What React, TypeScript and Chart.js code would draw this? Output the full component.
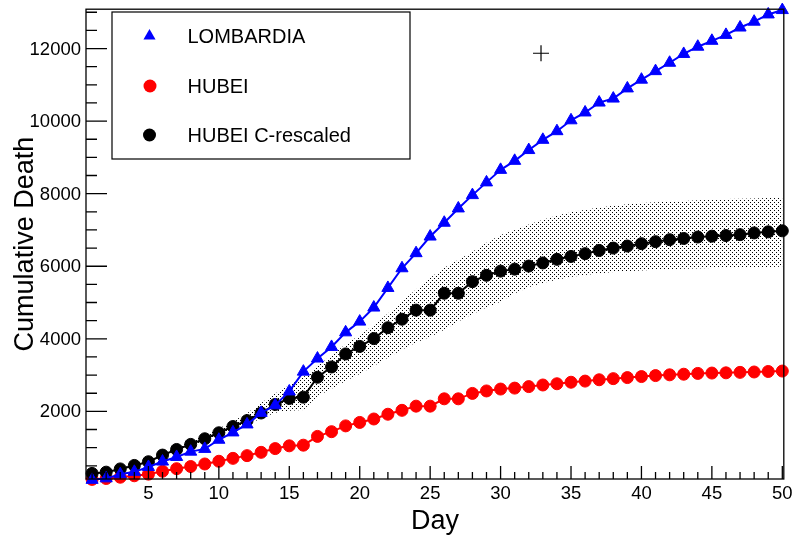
import React, { useEffect, useRef } from 'react';
import { Chart, registerables } from 'chart.js';

Chart.register(...registerables);

const DAYS = [1, 2, 3, 4, 5, 6, 7, 8, 9, 10, 11, 12, 13, 14, 15, 16, 17, 18, 19, 20, 21, 22, 23, 24, 25, 26, 27, 28, 29, 30, 31, 32, 33, 34, 35, 36, 37, 38, 39, 40, 41, 42, 43, 44, 45, 46, 47, 48, 49, 50];

const LOMBARDIA = [113, 154, 267, 333, 468, 617, 744, 890, 966, 1218, 1420, 1640, 1959, 2168, 2549, 3095, 3456, 3776, 4178, 4474, 4861, 5402, 5944, 6360, 6818, 7199, 7593, 7960, 8311, 8656, 8905, 9202, 9484, 9722, 10022, 10238, 10511, 10621, 10901, 11142, 11377, 11608, 11851, 12050, 12213, 12376, 12579, 12740, 12940, 13060];

const HUBEI = [125, 150, 185, 225, 270, 350, 420, 480, 550, 625, 705, 780, 871, 974, 1050, 1068, 1310, 1440, 1600, 1695, 1790, 1921, 2029, 2144, 2144, 2346, 2346, 2495, 2563, 2615, 2641, 2682, 2727, 2761, 2803, 2834, 2871, 2902, 2931, 2959, 2986, 3007, 3024, 3046, 3056, 3062, 3075, 3085, 3099, 3111];

const HUBEI_RESCALED = [290, 325, 414, 510, 612, 795, 950, 1090, 1245, 1410, 1582, 1746, 1955, 2190, 2356, 2392, 2940, 3224, 3582, 3790, 4005, 4305, 4540, 4790, 4790, 5255, 5255, 5575, 5750, 5865, 5920, 6005, 6090, 6190, 6270, 6347, 6435, 6500, 6556, 6622, 6677, 6732, 6765, 6805, 6828, 6845, 6870, 6918, 6948, 6975];

const BAND_UPPER = [305, 340, 435, 540, 645, 840, 1005, 1170, 1340, 1530, 1730, 1950, 2230, 2490, 2720, 2950, 3250, 3550, 3850, 4100, 4380, 4700, 5030, 5360, 5680, 5960, 6180, 6400, 6650, 6860, 7000, 7150, 7280, 7400, 7490, 7560, 7620, 7670, 7710, 7740, 7760, 7780, 7800, 7820, 7840, 7850, 7860, 7870, 7880, 7890];

const BAND_LOWER = [280, 310, 395, 490, 590, 765, 915, 1050, 1190, 1340, 1490, 1630, 1800, 1960, 2020, 2040, 2420, 2620, 2840, 3030, 3250, 3480, 3700, 3900, 4050, 4250, 4480, 4680, 4860, 5020, 5250, 5420, 5540, 5630, 5700, 5760, 5800, 5840, 5860, 5880, 5900, 5915, 5930, 5940, 5950, 5960, 5965, 5970, 5978, 5985];

const CROSS_MARK = [{ x: 32.87, y: 11870 }];

const Y_TICKS = [500, 1000, 1500, 2000, 2500, 3000, 3500, 4000, 4500, 5000, 5500, 6000, 6500, 7000, 7500, 8000, 8500, 9000, 9500, 10000, 10500, 11000, 11500, 12000, 12500, 13000];
const Y_LABELS = [2000, 4000, 6000, 8000, 10000, 12000];

const LEGEND_ITEMS = ['LOMBARDIA', 'HUBEI', 'HUBEI C-rescaled'];
const X_TITLE = 'Day';
const Y_TITLE = 'Cumulative Death';

const FONT = '"Liberation Sans", Arial, Helvetica, sans-serif';

export default function App() {
  const ref = useRef<HTMLCanvasElement>(null);

  useEffect(() => {
    document.body.style.margin = '0';
    const canvas = ref.current!;
    const pc = document.createElement('canvas');
    pc.width = 4;
    pc.height = 4;
    const pctx = pc.getContext('2d')!;
    pctx.fillStyle = '#000';
    pctx.fillRect(0, 0, 1, 1);
    pctx.fillRect(2, 2, 1, 1);
    const pattern = canvas.getContext('2d')!.createPattern(pc, 'repeat')!;

    const pts = (ys: number[]) => DAYS.map((d, i) => ({ x: d, y: ys[i] }));

    const decor = {
      id: 'rootDecor',
      afterDraw(chart: any) {
        const ctx = chart.ctx as CanvasRenderingContext2D;
        const { left, right, top, bottom } = chart.chartArea;
        const xs = chart.scales.x;
        const ys = chart.scales.y;
        ctx.save();
        ctx.strokeStyle = '#000';
        ctx.lineWidth = 1.3;
        ctx.strokeRect(left, top, right - left, bottom - top);
        ctx.beginPath();
        for (const t of xs.ticks) {
          const px = xs.getPixelForValue(t.value);
          const len = Math.round(t.value) % 5 === 0 ? 13 : 7;
          ctx.moveTo(px, bottom);
          ctx.lineTo(px, bottom - len);
        }
        for (const t of ys.ticks) {
          const py = ys.getPixelForValue(t.value);
          const len = Y_LABELS.includes(Math.round(t.value)) ? 21 : 11;
          ctx.moveTo(left, py);
          ctx.lineTo(left + len, py);
        }
        ctx.stroke();
        ctx.fillStyle = '#000';
        ctx.font = `18.5px ${FONT}`;
        ctx.textAlign = 'right';
        ctx.textBaseline = 'middle';
        for (const v of Y_LABELS) {
          ctx.fillText(String(v), left - 5, ys.getPixelForValue(v) + 1);
        }
        ctx.font = `27px ${FONT}`;
        ctx.textAlign = 'center';
        ctx.textBaseline = 'alphabetic';
        ctx.fillText(X_TITLE, (left + right) / 2, 529);
        ctx.save();
        ctx.translate(33, (top + bottom) / 2);
        ctx.rotate(-Math.PI / 2);
        ctx.fillText(Y_TITLE, 0, 0);
        ctx.restore();
        ctx.fillStyle = '#fff';
        ctx.fillRect(112, 12, 298, 147);
        ctx.strokeStyle = '#000';
        ctx.lineWidth = 1.2;
        ctx.strokeRect(112, 12, 298, 147);
        const rows = [36, 86, 135];
        ctx.fillStyle = '#0000ff';
        ctx.beginPath();
        const r = 7;
        ctx.moveTo(149.5, rows[0] - r);
        ctx.lineTo(149.5 + r * 0.866, rows[0] + r * 0.5);
        ctx.lineTo(149.5 - r * 0.866, rows[0] + r * 0.5);
        ctx.closePath();
        ctx.fill();
        ctx.fillStyle = '#ff0000';
        ctx.beginPath();
        ctx.arc(150, rows[1], 6.5, 0, Math.PI * 2);
        ctx.fill();
        ctx.fillStyle = '#000';
        ctx.beginPath();
        ctx.arc(149.5, rows[2], 6.5, 0, Math.PI * 2);
        ctx.fill();
        ctx.fillStyle = '#000';
        ctx.font = `20px ${FONT}`;
        ctx.textAlign = 'left';
        ctx.textBaseline = 'alphabetic';
        const bases = [42.7, 93.3, 141.7];
        LEGEND_ITEMS.forEach((txt, i) => ctx.fillText(txt, 187.5, bases[i]));
        ctx.restore();
      },
    };

    const tickFont = { family: FONT, size: 18.5 };

    const chart = new Chart(canvas, {
      type: 'line',
      data: {
        datasets: [
          {
            label: 'LOMBARDIA',
            data: pts(LOMBARDIA),
            borderColor: '#0000ff',
            backgroundColor: '#0000ff',
            borderWidth: 2,
            pointStyle: 'triangle',
            pointRadius: 7,
            pointBorderWidth: 1,
            pointBorderColor: '#0000ff',
            pointBackgroundColor: '#0000ff',
            fill: false,
            order: 0,
            clip: false,
          },
          {
            label: 'HUBEI C-rescaled',
            data: pts(HUBEI_RESCALED),
            borderColor: '#000000',
            backgroundColor: '#000000',
            borderWidth: 2,
            pointStyle: 'circle',
            pointRadius: 6,
            pointBorderWidth: 1,
            pointBorderColor: '#000000',
            pointBackgroundColor: '#000000',
            fill: false,
            order: 1,
            clip: false,
          },
          {
            label: 'HUBEI',
            data: pts(HUBEI),
            borderColor: '#ff0000',
            backgroundColor: '#ff0000',
            borderWidth: 2,
            pointStyle: 'circle',
            pointRadius: 6,
            pointBorderWidth: 1,
            pointBorderColor: '#ff0000',
            pointBackgroundColor: '#ff0000',
            fill: false,
            order: 2,
            clip: false,
          },
          {
            label: 'band upper',
            data: pts(BAND_UPPER),
            borderColor: 'rgba(0,0,0,0)',
            borderWidth: 1,
            pointRadius: 0,
            backgroundColor: pattern,
            fill: '+1',
            order: 3,
          },
          {
            label: 'band lower',
            data: pts(BAND_LOWER),
            borderColor: 'rgba(0,0,0,0)',
            borderWidth: 1,
            pointRadius: 0,
            fill: false,
            order: 4,
          },
          {
            label: 'marker',
            data: CROSS_MARK,
            showLine: false,
            pointStyle: 'cross',
            pointRadius: 8,
            pointBorderWidth: 1.2,
            pointBorderColor: '#000',
            borderColor: '#000',
            fill: false,
            order: 5,
            clip: false,
          },
        ],
      } as any,
      options: {
        animation: false,
        responsive: false,
        devicePixelRatio: 1,
        events: [],
        layout: { padding: { left: 0, top: 5, right: 8, bottom: 0 } },
        elements: { line: { tension: 0 } },
        plugins: { legend: { display: false }, tooltip: { enabled: false }, title: { display: false } },
        scales: {
          x: {
            type: 'linear',
            min: 0.568,
            max: 50.106,
            grid: { display: false, drawTicks: false },
            border: { display: false },
            afterFit: (s: any) => {
              s.height = 60;
              s.paddingLeft = 0;
              s.paddingRight = 0;
            },
            ticks: {
              stepSize: 1,
              autoSkip: false,
              maxRotation: 0,
              minRotation: 0,
              includeBounds: false,
              padding: 4,
              color: '#000',
              font: tickFont,
              callback: (v: any) => (Math.round(Number(v)) % 5 === 0 ? String(Math.round(Number(v))) : ''),
            },
          },
          y: {
            type: 'linear',
            min: 136,
            max: 13084,
            grid: { display: false, drawTicks: false },
            border: { display: false },
            afterBuildTicks: (s: any) => {
              s.ticks = Y_TICKS.map((v) => ({ value: v }));
            },
            afterFit: (s: any) => {
              s.width = 86;
              s.paddingTop = 0;
              s.paddingBottom = 0;
            },
            ticks: {
              display: false,
            },
          },
        },
      } as any,
      plugins: [decor],
    });
    return () => chart.destroy();
  }, []);

  return <canvas ref={ref} width={793} height={539} style={{ display: 'block' }} />;
}
